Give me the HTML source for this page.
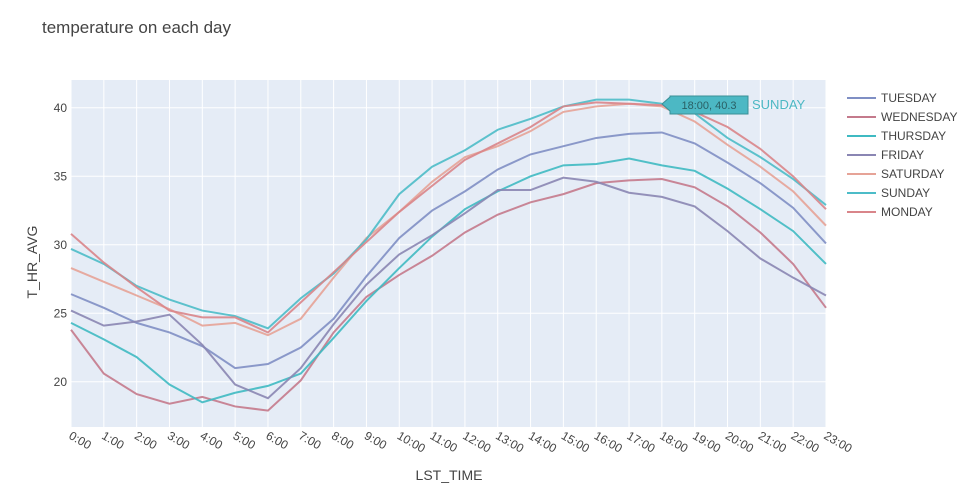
<!DOCTYPE html>
<html><head><meta charset="utf-8"><style>
body{margin:0;background:#fff;font-family:"Liberation Sans",sans-serif;}
svg text{font-family:"Liberation Sans",sans-serif;}
</style></head><body>
<svg id="chart" width="977" height="489">
<text x="42" y="33" font-size="17" fill="#444">temperature on each day</text>
<rect x="71" y="80" width="755" height="347" fill="#e5ecf6"/>
<g id="grid"></g><g id="lines"></g><g id="axes"></g><g id="legend"></g>
<text x="449" y="480" font-size="14" fill="#444" text-anchor="middle">LST_TIME</text>
<text transform="translate(37,262) rotate(-90)" font-size="14" fill="#444" text-anchor="middle">T_HR_AVG</text>
<g>
<path d="M662,104 L670,97 L670,96 L748,96 L748,114 L670,114 L670,111 Z" fill="#4cb8c4" stroke="#3a8f96"/>
<text x="709" y="109" font-size="11" fill="#2a5f64" text-anchor="middle">18:00, 40.3</text>
<text x="752" y="109" font-size="13" fill="#4cb8c4">SUNDAY</text>
</g>
</svg>
<script>
const hours=["0:00","1:00","2:00","3:00","4:00","5:00","6:00","7:00","8:00","9:00","10:00","11:00","12:00","13:00","14:00","15:00","16:00","17:00","18:00","19:00","20:00","21:00","22:00","23:00"];
const yTicks=[20,25,30,35,40];
const seriesNames=["TUESDAY","WEDNESDAY","THURSDAY","FRIDAY","SATURDAY","SUNDAY","MONDAY"];
const seriesColors=["#7f8fc4","#c47a8c","#3fbac2","#8a86b3","#e6a397","#4cbcc8","#d9858a"];
const tuesday=[26.4,25.4,24.3,23.6,22.6,21,21.3,22.5,24.6,27.7,30.5,32.5,33.9,35.5,36.6,37.2,37.8,38.1,38.2,37.4,36,34.5,32.7,30.1];
const wednesday=[23.8,20.6,19.1,18.4,18.9,18.2,17.9,20.1,23.6,26.2,27.8,29.2,30.9,32.2,33.1,33.7,34.5,34.7,34.8,34.2,32.8,30.9,28.6,25.4];
const thursday=[24.3,23.1,21.8,19.8,18.5,19.2,19.7,20.6,23.2,25.9,28.3,30.6,32.6,33.9,35,35.8,35.9,36.3,35.8,35.4,34.1,32.6,31,28.6];
const friday=[25.2,24.1,24.4,24.9,22.7,19.8,18.8,21,24.2,27.1,29.3,30.7,32.3,34,34,34.9,34.6,33.8,33.5,32.8,31,29,27.6,26.3];
const saturday=[28.3,27.3,26.3,25.3,24.1,24.3,23.4,24.6,27.6,30.5,32.4,34.6,36.4,37.2,38.3,39.7,40.1,40.3,40.1,39,37.3,35.7,33.9,31.4];
const sunday=[29.7,28.6,27,26,25.2,24.8,23.9,26.1,27.9,30.4,33.7,35.7,36.9,38.4,39.2,40.1,40.6,40.6,40.3,39.6,37.8,36.4,34.8,32.9];
const monday=[30.8,28.7,26.9,25.2,24.7,24.7,23.6,25.8,28,30.2,32.4,34.3,36.2,37.4,38.6,40.1,40.4,40.3,40.2,39.7,38.6,37,35,32.6];
const allSeries=[tuesday,wednesday,thursday,friday,saturday,sunday,monday];
const NS="http://www.w3.org/2000/svg";
const x0=71,x1=826,yTop=80,yBot=427,yMin=16.7,yMax=42.03;
const xs=i=>x0+i*(x1-x0)/(hours.length-1);
const ys=v=>yBot-(v-yMin)/(yMax-yMin)*(yBot-yTop);
function mk(t,a,p){const e=document.createElementNS(NS,t);for(const k in a)e.setAttribute(k,a[k]);p.appendChild(e);return e;}
const grid=document.getElementById('grid'),axes=document.getElementById('axes'),lines=document.getElementById('lines'),leg=document.getElementById('legend');
hours.forEach((h,i)=>{
 const l=mk('line',{x1:xs(i),x2:xs(i),y1:yTop,y2:yBot,stroke:'#fff','stroke-width':1},grid);
 
 
 const t=mk('text',{transform:`translate(${xs(i)-3},${yBot+11}) rotate(30)`,'font-size':12,fill:'#444'},axes);
 t.textContent=h;
 
 
});
yTicks.forEach(v=>{
 const l=mk('line',{x1:x0,x2:x1,y1:ys(v),y2:ys(v),stroke:'#fff','stroke-width':1},grid);
 
 
 const t=mk('text',{x:x0-4,y:ys(v)+4,'font-size':12,fill:'#444','text-anchor':'end'},axes);
 t.textContent=v;
 
 
});
allSeries.forEach((s,k)=>{
 const p=mk('polyline',{points:s.map((v,i)=>xs(i)+','+ys(v)).join(' '),fill:'none',stroke:seriesColors[k],'stroke-width':2,'stroke-opacity':0.9},lines);
 
 
 const g=mk('g',{},leg);
 
 
 const y=98+k*19;
 mk('line',{x1:847,x2:876,y1:y,y2:y,stroke:seriesColors[k],'stroke-width':2},g);
 const t=mk('text',{x:881,y:y+4,'font-size':12,fill:'#444'},g);
 t.textContent=seriesNames[k];
});
</script>
</body></html>
